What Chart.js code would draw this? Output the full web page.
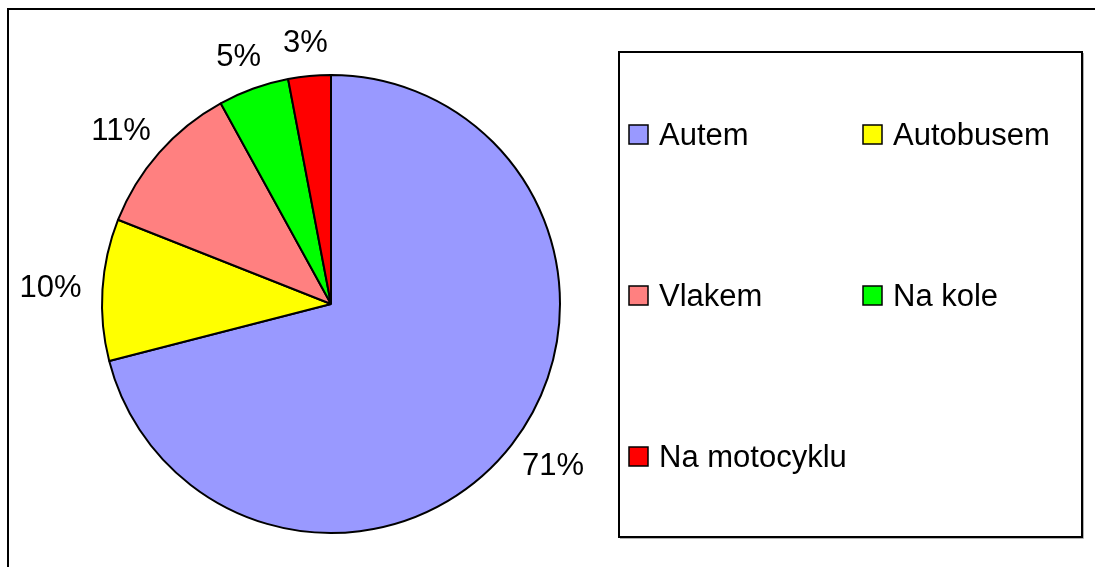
<!DOCTYPE html>
<html>
<head>
<meta charset="utf-8">
<script src="https://cdn.jsdelivr.net/npm/chart.js@4"></script>
<style>
    body { margin: 0; background: #fff; }
    #wrap { position: relative; width: 1095px; height: 567px; }
</style>
</head>
<body>
<div id="wrap"><canvas id="myChart"></canvas></div>
<script>
// data
const kategorie = ["Autem", "Autobusem", "Vlakem", "Na kole", "Na motocyklu"];
const hodnoty = [71, 10, 11, 5, 3];
const barvy = ["#9999FF", "#FFFF00", "#FF8080", "#00FF00", "#FF0000"];

const FONT = "31px 'Liberation Sans', Arial, sans-serif";

// frame, legend box, legend items and percentage labels
const dekorace = {
    id: "dekorace",
    afterDraw(chart) {
        const ctx = chart.ctx;
        ctx.save();

        // outer frame (only top and left edge are in view)
        ctx.strokeStyle = "#000";
        ctx.lineWidth = 2;
        ctx.beginPath();
        ctx.moveTo(8, 567);
        ctx.lineTo(8, 9);
        ctx.lineTo(1095, 9);
        ctx.stroke();

        // legend box with a small shadow
        ctx.strokeStyle = "#b0b0b0";
        ctx.lineWidth = 1;
        ctx.beginPath();
        ctx.moveTo(620, 538.5);
        ctx.lineTo(1083.5, 538.5);
        ctx.lineTo(1083.5, 53);
        ctx.stroke();
        ctx.strokeStyle = "#000";
        ctx.lineWidth = 2;
        ctx.strokeRect(619, 52, 463, 485);

        // legend items, two per row
        const sloupce = [629, 863];
        const radky = [134, 295, 456];
        ctx.font = FONT;
        ctx.textBaseline = "alphabetic";
        ctx.textAlign = "left";
        chart.data.labels.forEach((nazev, i) => {
            const x = sloupce[i % 2];
            const y = radky[Math.floor(i / 2)];
            ctx.fillStyle = chart.data.datasets[0].backgroundColor[i];
            ctx.fillRect(x, y - 9, 19, 19);
            ctx.strokeStyle = "#000";
            ctx.lineWidth = 1.5;
            ctx.strokeRect(x, y - 9, 19, 19);
            ctx.fillStyle = "#000";
            ctx.fillText(nazev, x + 30, y + 11);
        });

        // percentage labels outside the pie
        const meta = chart.getDatasetMeta(0);
        const data = chart.data.datasets[0].data;
        const soucet = data.reduce((a, b) => a + b, 0);
        meta.data.forEach((arc, i) => {
            const p = arc.getProps(["x", "y", "startAngle", "endAngle", "outerRadius"], true);
            const uhel = (p.startAngle + p.endAngle) / 2;
            const dx = Math.cos(uhel), dy = Math.sin(uhel);
            const text = Math.round(data[i] / soucet * 100) + "%";
            const w = ctx.measureText(text).width;
            const r = p.outerRadius + 21;
            const cx = p.x + dx * r + dx * w / 2;
            const cy = p.y + dy * r + dy * 13;
            ctx.textAlign = "center";
            ctx.textBaseline = "middle";
            ctx.fillStyle = "#000";
            ctx.fillText(text, cx, cy + 1);
        });

        ctx.restore();
    }
};

const ctx = document.getElementById("myChart").getContext("2d");

new Chart(ctx, {
    type: "pie",
    data: {
        labels: kategorie,
        datasets: [
            {
                data: hodnoty,
                backgroundColor: barvy,
                borderColor: "#000",
                borderWidth: 2,
                borderAlign: "center",
            },
        ],
    },
    options: {
        responsive: true,
        maintainAspectRatio: false,
        animation: false,
        layout: {
            padding: { left: 101, right: 534, top: 74, bottom: 33 },
        },
        plugins: {
            legend: { display: false },
            tooltip: { enabled: false },
        },
    },
    plugins: [dekorace],
});
</script>
</body>
</html>
